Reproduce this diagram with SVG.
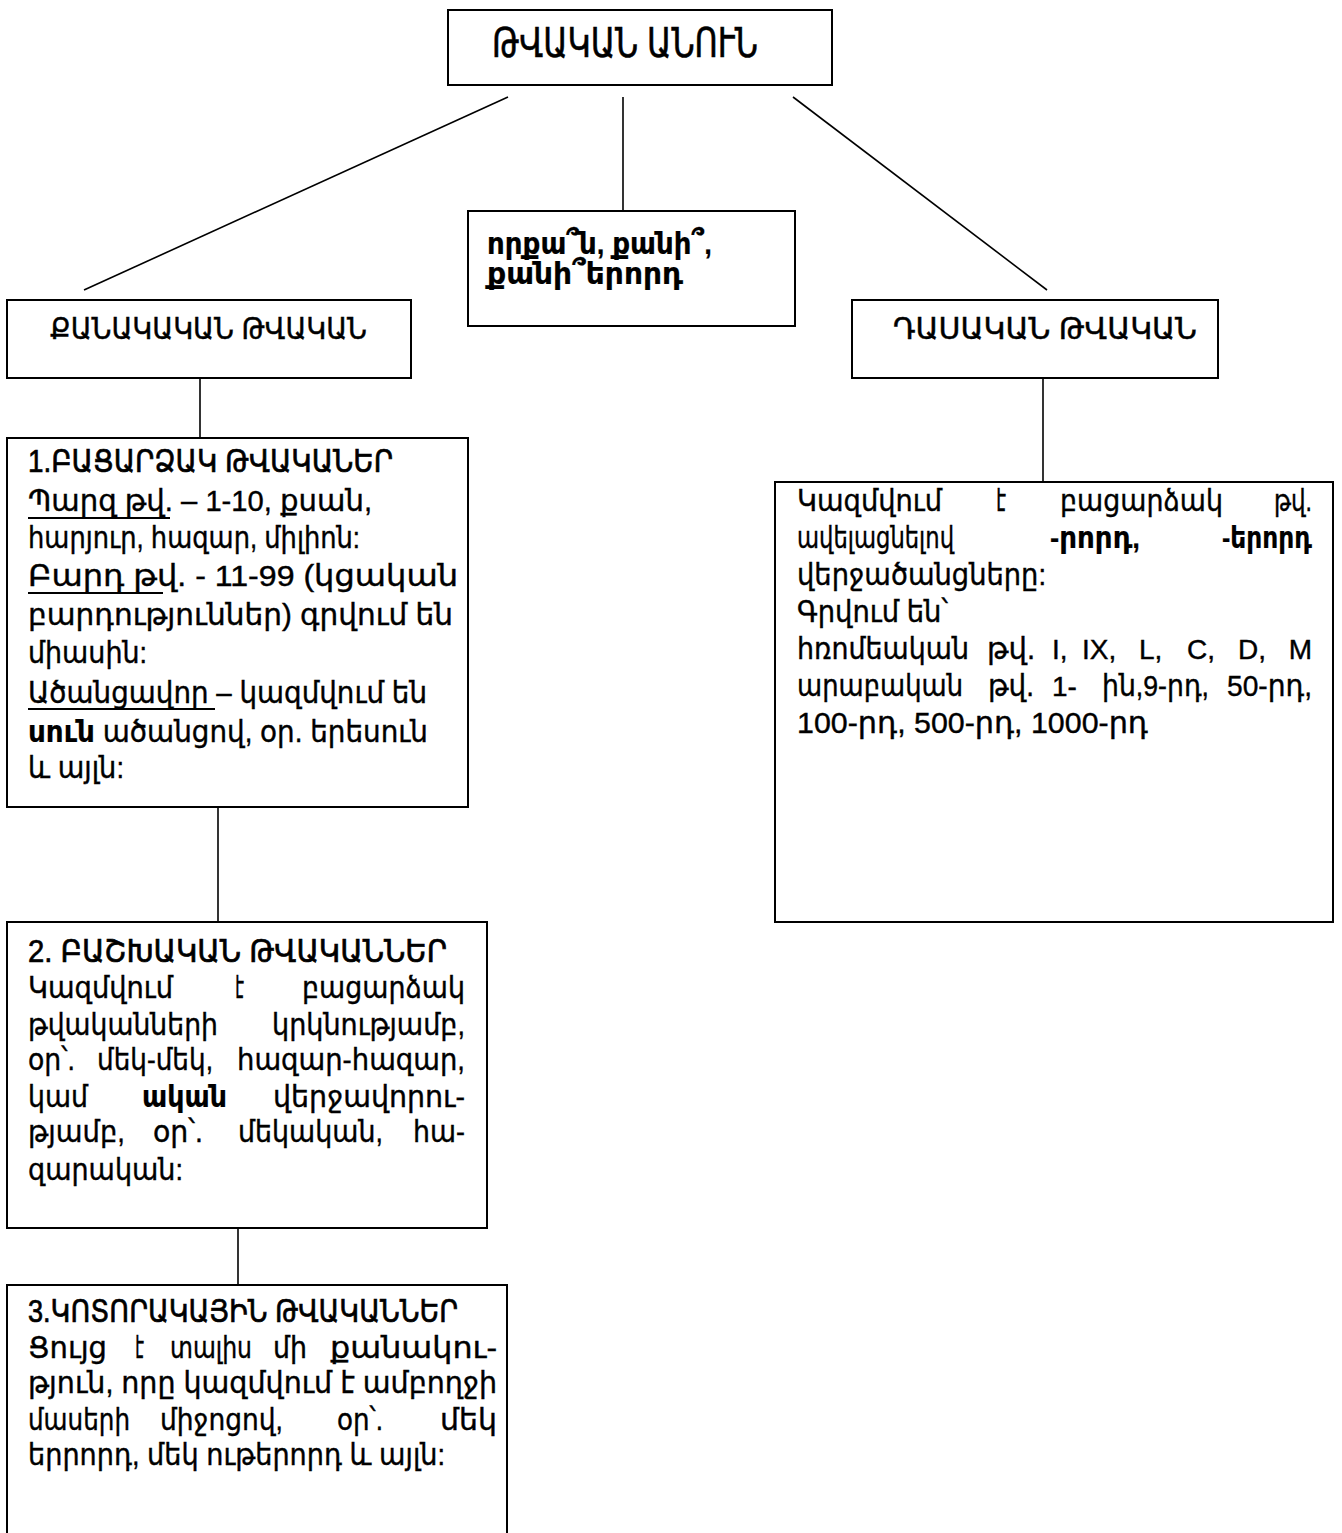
<svg xmlns="http://www.w3.org/2000/svg" width="1342" height="1533" viewBox="0 0 1342 1533">
<style>
text{font-family:"Liberation Sans","DejaVu Sans",sans-serif;font-size:30px;fill:#000;stroke:#000;stroke-width:0.4}
.h{font-size:32px;stroke-width:0.7}
.top{font-size:40px;stroke-width:0.6}
.sub{font-size:30px;stroke-width:0.45}
.b{font-weight:bold;stroke-width:0.2}
.lat{font-size:28px}
.box{fill:#fff;stroke:#000;stroke-width:2}
.ln{stroke:#000;stroke-width:1.6;fill:none}
.ul{stroke:#000;stroke-width:2}
</style>
<rect width="1342" height="1533" fill="#fff"/>
<g id="connectors">
<line class="ln" x1="508" y1="97" x2="84" y2="290"/>
<line class="ln" x1="623" y1="97" x2="623" y2="211"/>
<line class="ln" x1="793" y1="97" x2="1047" y2="290"/>
<line class="ln" x1="200" y1="378" x2="200" y2="438"/>
<line class="ln" x1="218" y1="807" x2="218" y2="922"/>
<line class="ln" x1="238" y1="1228" x2="238" y2="1285"/>
<line class="ln" x1="1043" y1="378" x2="1043" y2="482"/>
</g>
<g id="node-root">
<rect class="box" x="448" y="10" width="384" height="75"/>
<text class="top" x="492" y="57" textLength="266" lengthAdjust="spacingAndGlyphs">ԹՎԱԿԱՆ ԱՆՈՒՆ</text>
</g>
<g id="node-question">
<rect class="box" x="468" y="211" width="327" height="115"/>
<text class="b" x="487" y="254" textLength="225" lengthAdjust="spacingAndGlyphs">որքա՞ն, քանի՞,</text>
<text class="b" x="487" y="284" textLength="196" lengthAdjust="spacingAndGlyphs">քանի՞երորդ</text>
</g>
<g id="node-quantitative">
<rect class="box" x="7" y="300" width="404" height="78"/>
<text class="sub" x="50" y="339" textLength="317" lengthAdjust="spacingAndGlyphs">ՔԱՆԱԿԱԿԱՆ ԹՎԱԿԱՆ</text>
</g>
<g id="node-ordinal">
<rect class="box" x="852" y="300" width="366" height="78"/>
<text class="sub" x="893" y="339" textLength="304" lengthAdjust="spacingAndGlyphs">ԴԱՍԱԿԱՆ ԹՎԱԿԱՆ</text>
</g>
<g id="node-cardinal">
<rect class="box" x="7" y="438" width="461" height="369"/>
<text class="h" x="28" y="472" textLength="365" lengthAdjust="spacingAndGlyphs">1.ԲԱՑԱՐՁԱԿ ԹՎԱԿԱՆԵՐ</text>
<text x="28" y="511" textLength="344" lengthAdjust="spacingAndGlyphs">Պարզ թվ. – 1-10, քսան,</text>
<line class="ul" x1="28" y1="518" x2="170" y2="518"/>
<text x="28" y="548" textLength="332" lengthAdjust="spacingAndGlyphs">հարյուր, հազար, միլիոն:</text>
<text x="28" y="586" textLength="430" lengthAdjust="spacingAndGlyphs">Բարդ թվ. -  11-99 (կցական</text>
<line class="ul" x1="28" y1="593" x2="163" y2="593"/>
<text x="28" y="625" textLength="425" lengthAdjust="spacingAndGlyphs">բարդություններ) գրվում են</text>
<text x="28" y="663" textLength="119" lengthAdjust="spacingAndGlyphs">միասին:</text>
<text x="28" y="703" textLength="399" lengthAdjust="spacingAndGlyphs">Ածանցավոր – կազմվում են</text>
<line class="ul" x1="28" y1="709" x2="215" y2="709"/>
<text x="28" y="742" textLength="400" lengthAdjust="spacingAndGlyphs"><tspan class="b">սուն</tspan> ածանցով, օր. երեսուն</text>
<text x="28" y="778" textLength="96" lengthAdjust="spacingAndGlyphs">և այլն:</text>
</g>
<g id="node-distributive">
<rect class="box" x="7" y="922" width="480" height="306"/>
<text class="h" x="28" y="962" textLength="419" lengthAdjust="spacingAndGlyphs">2. ԲԱՇԽԱԿԱՆ  ԹՎԱԿԱՆՆԵՐ</text>
<text x="28" y="998" textLength="145" lengthAdjust="spacingAndGlyphs">Կազմվում</text>
<text x="235" y="998" textLength="9" lengthAdjust="spacingAndGlyphs">է</text>
<text x="302" y="998" textLength="163" lengthAdjust="spacingAndGlyphs">բացարձակ</text>
<text x="28" y="1035" textLength="190" lengthAdjust="spacingAndGlyphs">թվականների</text>
<text x="272" y="1035" textLength="193" lengthAdjust="spacingAndGlyphs">կրկնությամբ,</text>
<text x="28" y="1070" textLength="47" lengthAdjust="spacingAndGlyphs">օր՝.</text>
<text x="97" y="1070" textLength="116" lengthAdjust="spacingAndGlyphs">մեկ-մեկ,</text>
<text x="237" y="1070" textLength="228" lengthAdjust="spacingAndGlyphs">հազար-հազար,</text>
<text x="28" y="1107" textLength="60" lengthAdjust="spacingAndGlyphs">կամ</text>
<text class="b" x="142" y="1107" textLength="85" lengthAdjust="spacingAndGlyphs">ական</text>
<text x="273" y="1107" textLength="192" lengthAdjust="spacingAndGlyphs">վերջավորու-</text>
<text x="28" y="1142" textLength="97" lengthAdjust="spacingAndGlyphs">թյամբ,</text>
<text x="153" y="1142" textLength="50" lengthAdjust="spacingAndGlyphs">օր՝.</text>
<text x="238" y="1142" textLength="145" lengthAdjust="spacingAndGlyphs">մեկական,</text>
<text x="413" y="1142" textLength="52" lengthAdjust="spacingAndGlyphs">հա-</text>
<text x="28" y="1180" textLength="155" lengthAdjust="spacingAndGlyphs">զարական:</text>
</g>
<g id="node-fractional">
<rect class="box" x="7" y="1285" width="500" height="260"/>
<text class="h" x="28" y="1322" textLength="430" lengthAdjust="spacingAndGlyphs">3.ԿՈՏՈՐԱԿԱՅԻՆ ԹՎԱԿԱՆՆԵՐ</text>
<text x="28" y="1358" textLength="79" lengthAdjust="spacingAndGlyphs">Ցույց</text>
<text x="135" y="1358" textLength="9" lengthAdjust="spacingAndGlyphs">է</text>
<text x="170" y="1358" textLength="82" lengthAdjust="spacingAndGlyphs">տալիս</text>
<text x="273" y="1358" textLength="34" lengthAdjust="spacingAndGlyphs">մի</text>
<text x="330" y="1358" textLength="167" lengthAdjust="spacingAndGlyphs">քանակու-</text>
<text x="28" y="1393" textLength="469" lengthAdjust="spacingAndGlyphs">թյուն, որը կազմվում է ամբողջի</text>
<text x="28" y="1430" textLength="102" lengthAdjust="spacingAndGlyphs">մասերի</text>
<text x="160" y="1430" textLength="123" lengthAdjust="spacingAndGlyphs">միջոցով,</text>
<text x="337" y="1430" textLength="46" lengthAdjust="spacingAndGlyphs">օր՝.</text>
<text x="440" y="1430" textLength="57" lengthAdjust="spacingAndGlyphs">մեկ</text>
<text x="28" y="1465" textLength="417" lengthAdjust="spacingAndGlyphs">երրորդ, մեկ ութերորդ և այլն:</text>
</g>
<g id="node-ordinal-desc">
<rect class="box" x="775" y="482" width="558" height="440"/>
<text x="797" y="511" textLength="145" lengthAdjust="spacingAndGlyphs">Կազմվում</text>
<text x="996" y="511" textLength="10" lengthAdjust="spacingAndGlyphs">է</text>
<text x="1060" y="511" textLength="163" lengthAdjust="spacingAndGlyphs">բացարձակ</text>
<text x="1274" y="511" textLength="38" lengthAdjust="spacingAndGlyphs">թվ.</text>
<text x="797" y="548" textLength="157" lengthAdjust="spacingAndGlyphs">ավելացնելով</text>
<text class="b" x="1050" y="548" textLength="90" lengthAdjust="spacingAndGlyphs">-րորդ,</text>
<text class="b" x="1222" y="548" textLength="90" lengthAdjust="spacingAndGlyphs">-երորդ</text>
<text x="797" y="585" textLength="249" lengthAdjust="spacingAndGlyphs">վերջածանցները:</text>
<text x="797" y="622" textLength="151" lengthAdjust="spacingAndGlyphs">Գրվում են՝</text>
<text x="797" y="659" textLength="172" lengthAdjust="spacingAndGlyphs">հռոմեական</text>
<text x="987" y="659" textLength="48" lengthAdjust="spacingAndGlyphs">թվ.</text>
<text class="lat" x="1052" y="659">I,</text>
<text class="lat" x="1082" y="659">IX,</text>
<text class="lat" x="1139" y="659">L,</text>
<text class="lat" x="1187" y="659">C,</text>
<text class="lat" x="1238" y="659">D,</text>
<text class="lat" x="1312" y="659" text-anchor="end">M</text>
<text x="797" y="696" textLength="166" lengthAdjust="spacingAndGlyphs">արաբական</text>
<text x="988" y="696" textLength="46" lengthAdjust="spacingAndGlyphs">թվ.</text>
<text class="lat" x="1052" y="696">1-</text>
<text x="1102" y="696" textLength="107" lengthAdjust="spacingAndGlyphs">ին,9-րդ,</text>
<text x="1227" y="696" textLength="85" lengthAdjust="spacingAndGlyphs">50-րդ,</text>
<text x="797" y="733" textLength="351" lengthAdjust="spacingAndGlyphs">100-րդ, 500-րդ, 1000-րդ</text>
</g>
</svg>
